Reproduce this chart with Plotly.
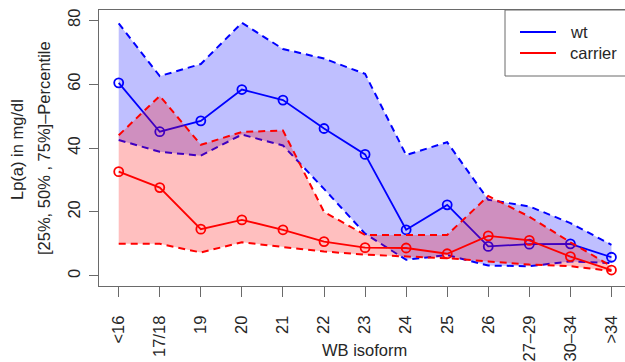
import plotly.graph_objects as go

categories = ["<16", "17/18", "19", "20", "21", "22", "23", "24", "25", "26", "27–29", "30–34", ">34"]

wt_q25 = [42.5, 38.8, 37.6, 44.2, 40.8, 27.2, 13.2, 5.0, 6.5, 3.2, 3.0, 4.5, 4.0]
wt_q50 = [60.4, 45.1, 48.5, 58.3, 55.0, 46.1, 38.0, 14.4, 22.2, 9.2, 9.9, 10.0, 5.8]
wt_q75 = [79.0, 62.5, 66.3, 79.2, 71.0, 68.0, 63.2, 37.8, 41.8, 23.8, 21.7, 16.5, 9.7]

car_q25 = [10.0, 10.0, 7.3, 10.5, 9.0, 7.6, 6.6, 6.0, 5.5, 4.5, 3.5, 3.0, 1.5]
car_q50 = [32.6, 27.6, 14.6, 17.5, 14.4, 10.7, 8.8, 8.7, 6.9, 12.5, 11.1, 6.0, 1.8]
car_q75 = [44.0, 56.3, 41.0, 45.0, 45.5, 20.0, 12.8, 12.8, 12.8, 25.0, 18.5, 10.5, 3.0]

y_ticks = [0, 20, 40, 60, 80]
series_names = ["wt", "carrier"]

BLUE = "rgb(0,0,255)"
RED = "rgb(255,0,0)"
FONT = "Liberation Sans, Arial, Helvetica, sans-serif"
TXT = "#262626"
AXC = "#6a6a6a"
FS = 16.5

x = list(range(len(categories)))
fig = go.Figure()


def add_group(lo, med, hi, color, fill):
    fig.add_trace(go.Scatter(
        x=x + x[::-1], y=hi + lo[::-1], fill="toself", fillcolor=fill,
        line=dict(width=0), mode="lines", hoverinfo="skip", showlegend=False))
    for arr in (hi, lo):
        fig.add_trace(go.Scatter(
            x=x, y=arr, mode="lines", showlegend=False,
            line=dict(color=color, width=2, dash="7px,5px")))
    fig.add_trace(go.Scatter(
        x=x, y=med, mode="lines+markers", showlegend=False,
        line=dict(color=color, width=1.8),
        marker=dict(symbol="circle-open", size=9, color=color,
                    line=dict(width=1.8, color=color))))


add_group(wt_q25, wt_q50, wt_q75, BLUE, "rgba(0,0,255,0.25)")
add_group(car_q25, car_q50, car_q75, RED, "rgba(255,0,0,0.25)")

L, W, T, H = 99, 526, 10, 276

fig.update_layout(
    width=625, height=362,
    margin=dict(l=L, r=0, t=T, b=362 - T - H, pad=0, autoexpand=False),
    paper_bgcolor="white", plot_bgcolor="white",
    font=dict(family=FONT, size=FS, color=TXT),
    showlegend=False,
    xaxis=dict(
        range=[-0.48, 12.33], tickmode="array", tickvals=x, ticktext=categories,
        tickangle=-90, ticks="outside", ticklen=10, tickcolor=AXC, tickwidth=1,
        showline=True, linecolor=AXC, linewidth=1, mirror=True, automargin=False,
        showgrid=False, zeroline=False, tickfont=dict(size=FS, color=TXT),
        ticklabelstandoff=12,
    ),
    yaxis=dict(
        range=[-3.2, 83.2], tickmode="array", tickvals=y_ticks,
        tickangle=-90, ticks="outside", ticklen=9, tickcolor=AXC, tickwidth=1,
        showline=True, linecolor=AXC, linewidth=1, mirror=False, automargin=False,
        showgrid=False, zeroline=False, tickfont=dict(size=FS, color=TXT),
        ticklabelstandoff=2,
    ),
)


def px_x(p):
    return (p - L) / W


def px_y(p):
    return 1 - (p - T) / H


# axis titles
fig.add_annotation(text="WB isoform", xref="paper", yref="paper",
                   x=px_x(364), y=px_y(350), showarrow=False,
                   xanchor="center", yanchor="middle", font=dict(size=FS, color=TXT))
fig.add_annotation(text="Lp(a) in mg/dl", xref="paper", yref="paper",
                   x=px_x(17), y=px_y(150), textangle=-90, showarrow=False,
                   xanchor="center", yanchor="middle", font=dict(size=FS, color=TXT))
fig.add_annotation(text="[25%, 50% , 75%]–Percentile", xref="paper", yref="paper",
                   x=px_x(44), y=px_y(148), textangle=-90, showarrow=False,
                   xanchor="center", yanchor="middle", font=dict(size=FS, color=TXT))

# legend box
fig.add_shape(type="rect", xref="paper", yref="paper",
              x0=px_x(505), x1=px_x(660), y0=px_y(76), y1=px_y(10),
              line=dict(color=AXC, width=1), fillcolor="white", layer="above")
for name, col, py in zip(series_names, [BLUE, RED], [32, 53]):
    fig.add_shape(type="line", xref="paper", yref="paper",
                  x0=px_x(520), x1=px_x(556), y0=px_y(py), y1=px_y(py),
                  line=dict(color=col, width=2), layer="above")
    fig.add_annotation(text=name, xref="paper", yref="paper",
                       x=px_x(568), y=px_y(py), xanchor="left", yanchor="middle",
                       showarrow=False, font=dict(size=FS, color=TXT))

fig.write_html(
    "out.html",
    config={"displayModeBar": False},
    post_script="document.body.style.margin='0';document.body.style.overflow='hidden';",
)
